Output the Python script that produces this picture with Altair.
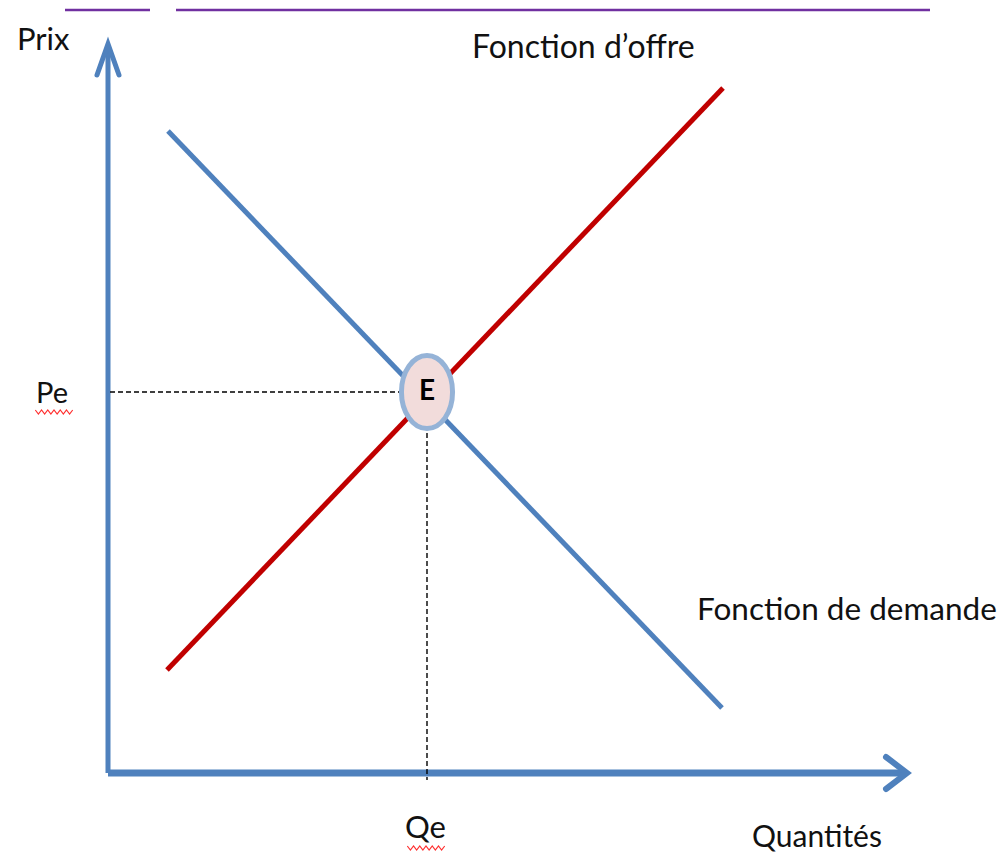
import altair as alt
import pandas as pd

# ---- data (quantity / price units, origin at the axes intersection) ----
demand_q = [6.0, 61.4]
demand_p = [64.2, 6.5]
supply_q = [5.9, 61.5]
supply_p = [10.3, 68.5]
qe = 31.9
pe = 38.1

axis_q = [0.0, 0.0, 79.7]
axis_p = [72.8, 0.0, 0.0]
arrow_y_q = [-1.1, 0.0, 1.1]
arrow_y_p = [69.8, 72.9, 69.8]
arrow_x_q = [77.8, 79.9, 77.8]
arrow_x_p = [1.6, 0.0, -1.6]

label_text = ["Prix", "Fonction d\u2019offre", "Pe", "Fonction de demande", "Qe", "Quantit\u00e9s"]
label_q = [-9.1, 36.4, -7.2, 58.9, 29.7, 64.4]
label_p = [72.3, 71.5, 37.0, 15.3, -6.5, -7.4]
label_size = [31, 32, 29, 31.5, 31, 30]

squiggle_q = [-5.4, 31.8]
squiggle_p = [36.3, -7.3]

purple_q1 = [-4.3, 4.2]
purple_q2 = [6.8, 82.2]
purple_p = 76.3

FONT = "Lato"
BLUE = "#4F81BD"
RED = "#C00000"

xs = alt.Scale(domain=[-10, 89], nice=False, zero=False)
ys = alt.Scale(domain=[-8, 76.5], nice=False, zero=False)


def X(field="q"):
    return alt.X(f"{field}:Q", scale=xs, axis=None)


def Y(field="p"):
    return alt.Y(f"{field}:Q", scale=ys, axis=None)


def seg(qs, ps):
    return pd.DataFrame({"q": qs, "p": ps, "o": list(range(len(qs)))})


def line(df, color, width, dash=None, cap="butt"):
    kw = dict(color=color, strokeWidth=width, strokeCap=cap, strokeJoin="miter", clip=False)
    if dash:
        kw["strokeDash"] = dash
    return alt.Chart(df).mark_line(**kw).encode(x=X(), y=Y(), order="o:Q")


layers = []
# purple artefact lines at the very top
layers.append(line(seg(purple_q1, [purple_p, purple_p]), "#7030A0", 2.5))
layers.append(line(seg(purple_q2, [purple_p, purple_p]), "#7030A0", 2.5))
# axes
layers.append(line(seg(axis_q[:2], axis_p[:2]), BLUE, 5))
layers.append(line(seg(axis_q[1:], axis_p[1:]), BLUE, 7))
layers.append(line(seg(arrow_y_q, arrow_y_p), BLUE, 5, cap="round"))
layers.append(line(seg(arrow_x_q, arrow_x_p), BLUE, 6, cap="round"))
# dashed guides
layers.append(line(seg([0.2, 29.2], [pe, pe]), "black", 1.4, dash=[5, 3]))
layers.append(line(seg([qe, qe], [34.0, -0.7]), "black", 1.4, dash=[5, 3]))
# curves
layers.append(line(seg(supply_q, supply_p), RED, 5))
layers.append(line(seg(demand_q, demand_p), BLUE, 5))

# equilibrium ellipse
ELLIPSE = ("M0,-1 C0.387,-1 0.70,-0.5523 0.70,0 C0.70,0.5523 0.387,1 0,1 "
           "C-0.387,1 -0.70,0.5523 -0.70,0 C-0.70,-0.5523 -0.387,-1 0,-1 Z")
eq_df = pd.DataFrame({"q": [qe], "p": [pe], "t": ["E"]})
layers.append(
    alt.Chart(eq_df).mark_point(shape=ELLIPSE, size=5329, filled=True, fill="#F2DCDB",
                                stroke="#95B3D7", strokeWidth=5, opacity=1, clip=False)
    .encode(x=X(), y=Y())
)
layers.append(
    alt.Chart(eq_df).mark_text(font=FONT, fontSize=28, fontWeight="bold", color="black",
                               align="center", baseline="middle", clip=False)
    .encode(x=X(), y=Y(), text="t:N")
)

# labels
lab_df = pd.DataFrame({"q": label_q, "p": label_p, "t": label_text, "s": label_size})
layers.append(
    alt.Chart(lab_df).mark_text(font=FONT, color="#111111", align="left",
                                baseline="alphabetic", clip=False)
    .encode(x=X(), y=Y(), text="t:N", size=alt.Size("s:Q", scale=None, legend=None))
)

# red spell-check squiggles under Pe and Qe
ZIG = ("M-1,0 L-0.8333,0.22 L-0.6667,0 L-0.5,0.22 L-0.3333,0 L-0.1667,0.22 L0,0 "
       "L0.1667,0.22 L0.3333,0 L0.5,0.22 L0.6667,0 L0.8333,0.22 L1,0")
sq_df = pd.DataFrame({"q": squiggle_q, "p": squiggle_p})
layers.append(
    alt.Chart(sq_df).mark_point(shape=ZIG, size=1400, filled=False, stroke="#FF3030",
                                strokeWidth=1.2, opacity=1, clip=False)
    .encode(x=X(), y=Y())
)

chart = alt.layer(*layers).properties(
    width=990, height=845, autosize="none", padding=0
).configure_view(stroke=None)

chart.save("out.html", embed_options={"renderer": "svg", "actions": False})
